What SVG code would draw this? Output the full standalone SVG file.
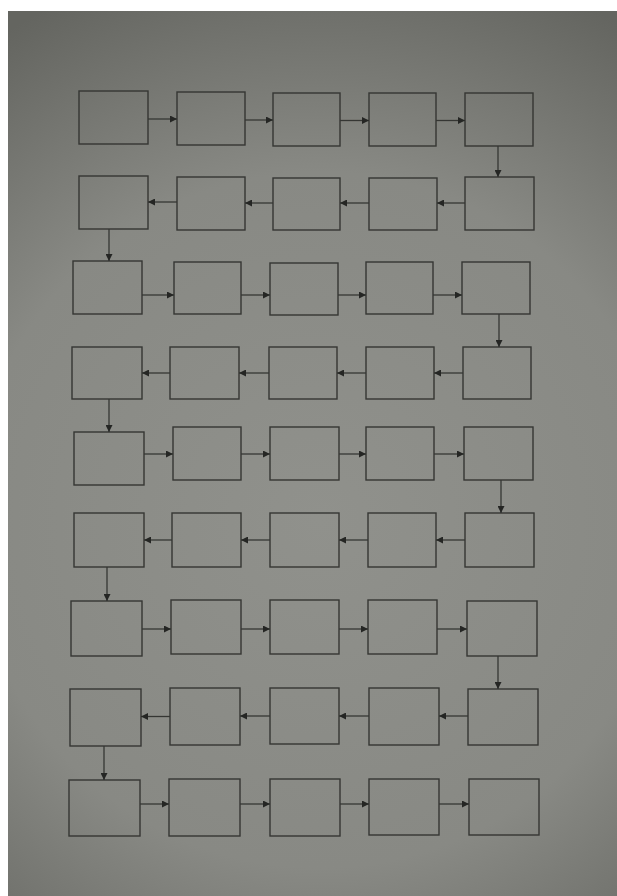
<svg xmlns="http://www.w3.org/2000/svg" width="617" height="896" viewBox="0 0 617 896">
<style>
.box rect{fill:none;stroke:#353633;stroke-width:1.4}
.conn line{stroke:#353633;stroke-width:1.3}
</style>
<defs>
<radialGradient id="bg" cx="320" cy="520" r="580" gradientUnits="userSpaceOnUse">
<stop offset="0" stop-color="#90918c"/>
<stop offset="0.6" stop-color="#888984"/>
<stop offset="1" stop-color="#646560"/>
</radialGradient>
<marker id="ah" markerWidth="8" markerHeight="7" refX="7" refY="3.5" orient="auto" markerUnits="userSpaceOnUse">
<path d="M0,0 L7,3.5 L0,7 Z" fill="#252624"/>
</marker>
</defs>
<rect x="0" y="0" width="617" height="896" fill="#ffffff"/>
<rect x="8" y="11" width="609" height="885" fill="url(#bg)"/>
<g id="nodes">
<g id="n1-1" class="box"><rect x="79" y="91" width="69" height="53"/></g>
<g id="n1-2" class="box"><rect x="177" y="92" width="68" height="53"/></g>
<g id="n1-3" class="box"><rect x="273" y="93" width="67" height="53"/></g>
<g id="n1-4" class="box"><rect x="369" y="93" width="67" height="53"/></g>
<g id="n1-5" class="box"><rect x="465" y="93" width="68" height="53"/></g>
<g id="n2-1" class="box"><rect x="79" y="176" width="69" height="53"/></g>
<g id="n2-2" class="box"><rect x="177" y="177" width="68" height="53"/></g>
<g id="n2-3" class="box"><rect x="273" y="178" width="67" height="52"/></g>
<g id="n2-4" class="box"><rect x="369" y="178" width="68" height="52"/></g>
<g id="n2-5" class="box"><rect x="465" y="177" width="69" height="53"/></g>
<g id="n3-1" class="box"><rect x="73" y="261" width="69" height="53"/></g>
<g id="n3-2" class="box"><rect x="174" y="262" width="67" height="52"/></g>
<g id="n3-3" class="box"><rect x="270" y="263" width="68" height="52"/></g>
<g id="n3-4" class="box"><rect x="366" y="262" width="67" height="52"/></g>
<g id="n3-5" class="box"><rect x="462" y="262" width="68" height="52"/></g>
<g id="n4-1" class="box"><rect x="72" y="347" width="70" height="52"/></g>
<g id="n4-2" class="box"><rect x="170" y="347" width="69" height="52"/></g>
<g id="n4-3" class="box"><rect x="269" y="347" width="68" height="52"/></g>
<g id="n4-4" class="box"><rect x="366" y="347" width="68" height="52"/></g>
<g id="n4-5" class="box"><rect x="463" y="347" width="68" height="52"/></g>
<g id="n5-1" class="box"><rect x="74" y="432" width="70" height="53"/></g>
<g id="n5-2" class="box"><rect x="173" y="427" width="68" height="53"/></g>
<g id="n5-3" class="box"><rect x="270" y="427" width="69" height="53"/></g>
<g id="n5-4" class="box"><rect x="366" y="427" width="68" height="53"/></g>
<g id="n5-5" class="box"><rect x="464" y="427" width="69" height="53"/></g>
<g id="n6-1" class="box"><rect x="74" y="513" width="70" height="54"/></g>
<g id="n6-2" class="box"><rect x="172" y="513" width="69" height="54"/></g>
<g id="n6-3" class="box"><rect x="270" y="513" width="69" height="54"/></g>
<g id="n6-4" class="box"><rect x="368" y="513" width="68" height="54"/></g>
<g id="n6-5" class="box"><rect x="465" y="513" width="69" height="54"/></g>
<g id="n7-1" class="box"><rect x="71" y="601" width="71" height="55"/></g>
<g id="n7-2" class="box"><rect x="171" y="600" width="70" height="54"/></g>
<g id="n7-3" class="box"><rect x="270" y="600" width="69" height="54"/></g>
<g id="n7-4" class="box"><rect x="368" y="600" width="69" height="54"/></g>
<g id="n7-5" class="box"><rect x="467" y="601" width="70" height="55"/></g>
<g id="n8-1" class="box"><rect x="70" y="689" width="71" height="57"/></g>
<g id="n8-2" class="box"><rect x="170" y="688" width="70" height="57"/></g>
<g id="n8-3" class="box"><rect x="270" y="688" width="69" height="56"/></g>
<g id="n8-4" class="box"><rect x="369" y="688" width="70" height="57"/></g>
<g id="n8-5" class="box"><rect x="468" y="689" width="70" height="56"/></g>
<g id="n9-1" class="box"><rect x="69" y="780" width="71" height="56"/></g>
<g id="n9-2" class="box"><rect x="169" y="779" width="71" height="57"/></g>
<g id="n9-3" class="box"><rect x="270" y="779" width="70" height="57"/></g>
<g id="n9-4" class="box"><rect x="369" y="779" width="70" height="56"/></g>
<g id="n9-5" class="box"><rect x="469" y="779" width="70" height="56"/></g>
</g>
<g id="connectors" class="conn">
<line x1="148" y1="119" x2="177" y2="119" marker-end="url(#ah)"/>
<line x1="245" y1="120" x2="273" y2="120" marker-end="url(#ah)"/>
<line x1="340" y1="120.5" x2="369" y2="120.5" marker-end="url(#ah)"/>
<line x1="436" y1="120.5" x2="465" y2="120.5" marker-end="url(#ah)"/>
<line x1="498" y1="146" x2="498" y2="177" marker-end="url(#ah)"/>
<line x1="465" y1="203" x2="437" y2="203" marker-end="url(#ah)"/>
<line x1="369" y1="203" x2="340" y2="203" marker-end="url(#ah)"/>
<line x1="273" y1="203" x2="245" y2="203" marker-end="url(#ah)"/>
<line x1="177" y1="202" x2="148" y2="202" marker-end="url(#ah)"/>
<line x1="109" y1="229" x2="109" y2="261" marker-end="url(#ah)"/>
<line x1="142" y1="295" x2="174" y2="295" marker-end="url(#ah)"/>
<line x1="241" y1="295" x2="270" y2="295" marker-end="url(#ah)"/>
<line x1="338" y1="295" x2="366" y2="295" marker-end="url(#ah)"/>
<line x1="433" y1="295" x2="462" y2="295" marker-end="url(#ah)"/>
<line x1="499" y1="314" x2="499" y2="347" marker-end="url(#ah)"/>
<line x1="463" y1="373" x2="434" y2="373" marker-end="url(#ah)"/>
<line x1="366" y1="373" x2="337" y2="373" marker-end="url(#ah)"/>
<line x1="269" y1="373" x2="239" y2="373" marker-end="url(#ah)"/>
<line x1="170" y1="373" x2="142" y2="373" marker-end="url(#ah)"/>
<line x1="109" y1="399" x2="109" y2="432" marker-end="url(#ah)"/>
<line x1="144" y1="454" x2="173" y2="454" marker-end="url(#ah)"/>
<line x1="241" y1="454" x2="270" y2="454" marker-end="url(#ah)"/>
<line x1="339" y1="454" x2="366" y2="454" marker-end="url(#ah)"/>
<line x1="434" y1="454" x2="464" y2="454" marker-end="url(#ah)"/>
<line x1="501" y1="480" x2="501" y2="513" marker-end="url(#ah)"/>
<line x1="465" y1="540" x2="436" y2="540" marker-end="url(#ah)"/>
<line x1="368" y1="540" x2="339" y2="540" marker-end="url(#ah)"/>
<line x1="270" y1="540" x2="241" y2="540" marker-end="url(#ah)"/>
<line x1="172" y1="540" x2="144" y2="540" marker-end="url(#ah)"/>
<line x1="107" y1="567" x2="107" y2="601" marker-end="url(#ah)"/>
<line x1="142" y1="629" x2="171" y2="629" marker-end="url(#ah)"/>
<line x1="241" y1="629" x2="270" y2="629" marker-end="url(#ah)"/>
<line x1="339" y1="629" x2="368" y2="629" marker-end="url(#ah)"/>
<line x1="437" y1="629" x2="467" y2="629" marker-end="url(#ah)"/>
<line x1="498" y1="656" x2="498" y2="689" marker-end="url(#ah)"/>
<line x1="468" y1="716" x2="439" y2="716" marker-end="url(#ah)"/>
<line x1="369" y1="716" x2="339" y2="716" marker-end="url(#ah)"/>
<line x1="270" y1="716" x2="240" y2="716" marker-end="url(#ah)"/>
<line x1="170" y1="716.5" x2="141" y2="716.5" marker-end="url(#ah)"/>
<line x1="104" y1="746" x2="104" y2="780" marker-end="url(#ah)"/>
<line x1="140" y1="804" x2="169" y2="804" marker-end="url(#ah)"/>
<line x1="240" y1="804" x2="270" y2="804" marker-end="url(#ah)"/>
<line x1="340" y1="804" x2="369" y2="804" marker-end="url(#ah)"/>
<line x1="439" y1="804" x2="469" y2="804" marker-end="url(#ah)"/>
</g>
</svg>
